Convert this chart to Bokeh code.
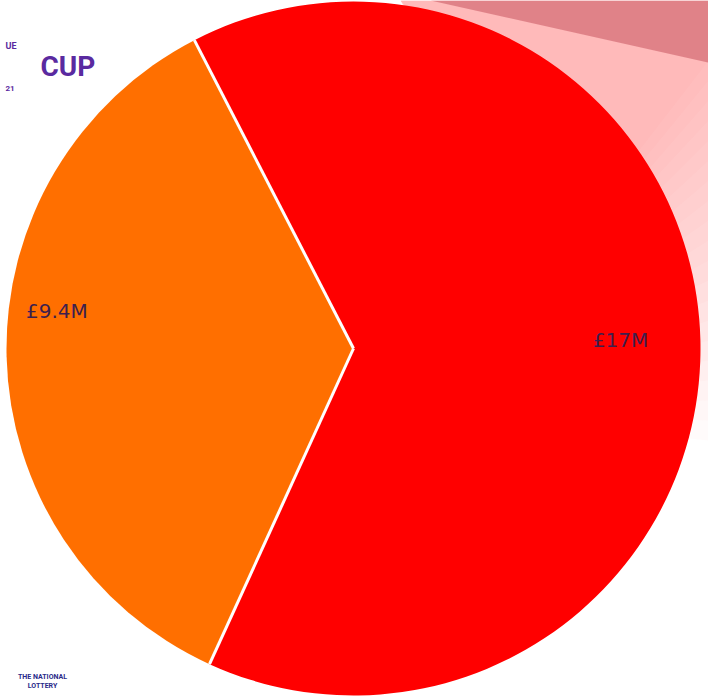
import numpy as np
from bokeh.plotting import figure
from bokeh.models import Range1d, ColumnDataSource
from bokeh.core.properties import value
from bokeh.embed import file_html
from bokeh.resources import INLINE

labels = ["£9.4M", "£17M"]
amounts = [9.4, 17.0]
colors = ["#ff6f00", "#ff0000"]

W, H = 708, 700
p = figure(width=W, height=H, output_backend="svg", toolbar_location=None,
           x_range=Range1d(0, W), y_range=Range1d(0, H),
           min_border=0)
p.axis.visible = False
p.grid.visible = False
p.outline_line_color = None
p.background_fill_color = "white"
p.border_fill_color = "white"

# background decoration (pink shading top-right, fading)
for k in range(20):
    p.patch([400, 708, 708, 600], [700, 700, 640 - 20 * k, 500 - 12 * k], fill_color="#f56a6a",
            fill_alpha=0.026, line_color=None)
p.patch([430, 708, 708], [700, 700, 638], fill_color="#d8747c", fill_alpha=0.8, line_color=None)

cx, cy, R = 353, 352, 347
total = sum(amounts)
start0 = np.deg2rad(117.3)
fracs = np.array(amounts) / total
ends = start0 + np.cumsum(fracs) * 2 * np.pi
starts = np.concatenate([[start0], ends[:-1]])
src = ColumnDataSource(dict(start=starts, end=ends, color=colors, label=labels))
p.wedge(x=cx, y=cy, radius=R, start_angle="start", end_angle="end",
        fill_color="color", line_color=None, source=src)
# white separators between slices
bx = [[cx, cx + R * np.cos(a)] for a in starts]
by = [[cy, cy + R * np.sin(a)] for a in starts]
p.multi_line(xs=bx, ys=by, line_color="white", line_width=3)

mid = (starts + ends) / 2
lr = np.array([0.855, 0.77]) * R
lx = cx + lr * np.cos(mid)
ly = cy + lr * np.sin(mid) + np.array([45, 2])
p.text(x=lx, y=ly, text=labels, text_align="center", text_baseline="middle",
       text_font=value("DejaVu Sans"), text_font_size="20px", text_color="#3d1f4e")

# logo texts in background
p.text(x=[40], y=[700 - 66], text=["CUP"], text_font=value("Roboto"), text_font_style="bold",
       text_font_size="28px", text_color="#5a2aa0", text_baseline="middle")
p.text(x=[5], y=[700 - 45], text=["UE"], text_font=value("Roboto"), text_font_style="bold",
       text_font_size="9px", text_color="#5a2aa0", text_baseline="middle")
p.text(x=[5], y=[700 - 88], text=["21"], text_font=value("Roboto"), text_font_style="bold",
       text_font_size="8px", text_color="#5a2aa0", text_baseline="middle")
p.text(x=[42, 42], y=[700 - 676, 700 - 685], text=["THE NATIONAL", "LOTTERY"], text_font=value("Roboto"),
       text_font_style="bold", text_font_size="7px", text_color="#2a2a8a",
       text_align="center", text_baseline="middle")

open("out.html", "w").write(file_html(p, INLINE))
